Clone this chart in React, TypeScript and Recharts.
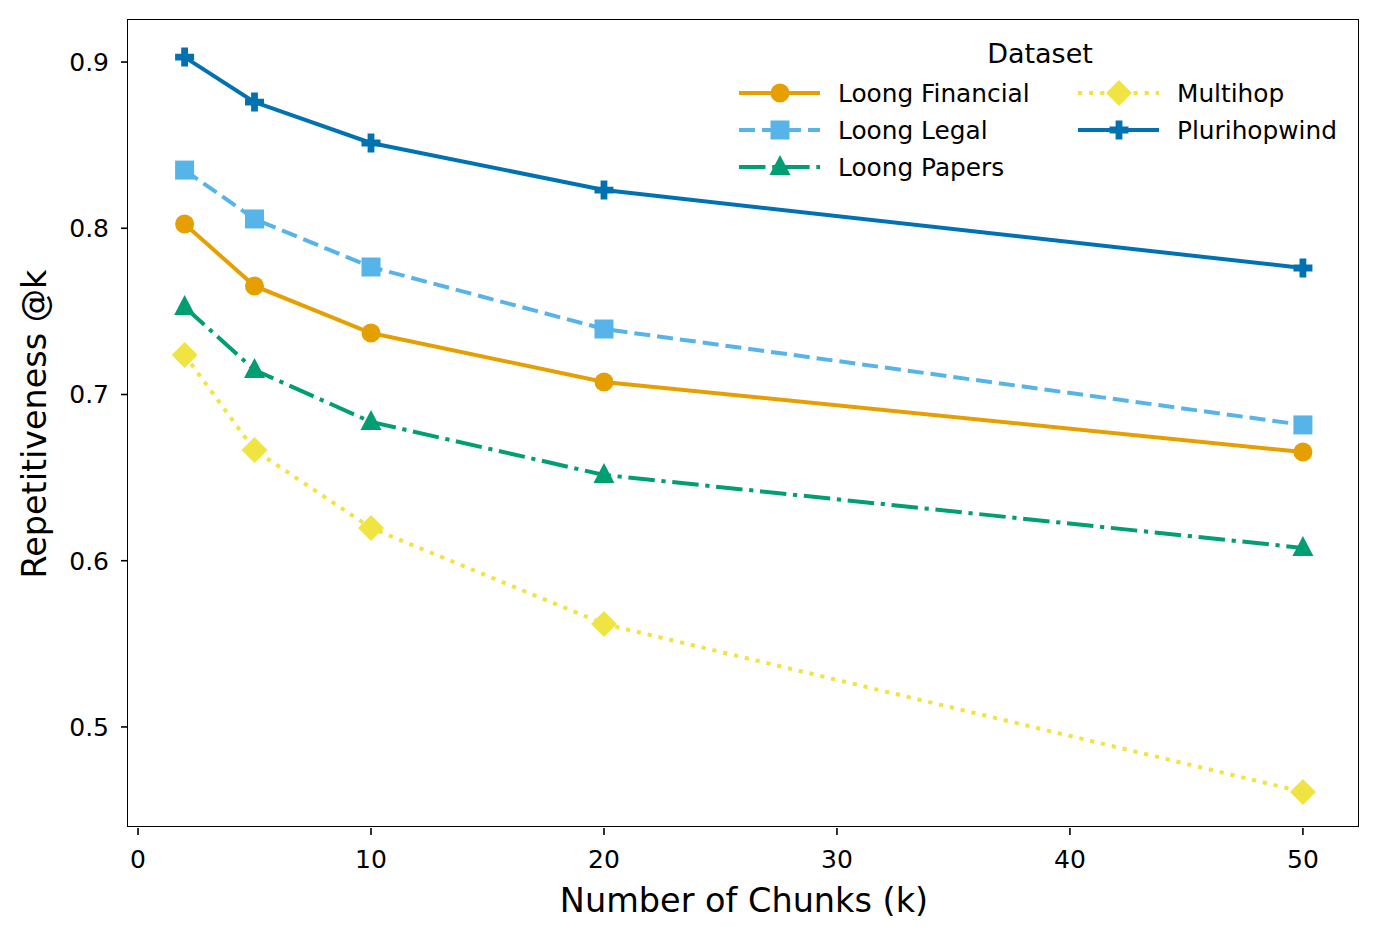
import React from "react";
import { LineChart, Line, XAxis, YAxis } from "recharts";

const chunks = [2, 5, 10, 20, 50];
const loongFinancial = [0.8026, 0.7653, 0.737, 0.7075, 0.6654];
const loongLegal = [0.835, 0.8056, 0.7767, 0.7394, 0.6817];
const loongPapers = [0.7526, 0.7147, 0.6835, 0.6516, 0.6077];
const multihop = [0.7238, 0.6666, 0.6197, 0.562, 0.4609];
const plurihopwind = [0.903, 0.8759, 0.8513, 0.823, 0.7761];

const xTicks = [0, 10, 20, 30, 40, 50];
const yTicks = [0.5, 0.6, 0.7, 0.8, 0.9];

const FONT = "'DejaVu Sans', sans-serif";
const LW = 4;

type Shape = "circle" | "square" | "triangle" | "diamond" | "plus";

const SERIES: { key: string; name: string; color: string; dash?: string; shape: Shape }[] = [
  { key: "financial", name: "Loong Financial", color: "#E69F00", shape: "circle" },
  { key: "legal", name: "Loong Legal", color: "#56B4E9", dash: "16 7", shape: "square" },
  { key: "papers", name: "Loong Papers", color: "#009E73", dash: "26.5 6.7 4.2 6.7", shape: "triangle" },
  { key: "multihop", name: "Multihop", color: "#F0E442", dash: "4.2 6.9", shape: "diamond" },
  { key: "pluri", name: "Plurihopwind", color: "#0072B2", shape: "plus" },
];

const data = chunks.map((k, i) => ({
  k,
  financial: loongFinancial[i],
  legal: loongLegal[i],
  papers: loongPapers[i],
  multihop: multihop[i],
  pluri: plurihopwind[i],
}));

function Marker({ shape, cx, cy, color }: { shape: Shape; cx: number; cy: number; color: string }) {
  if (cx == null || cy == null) return null;
  switch (shape) {
    case "circle":
      return <circle cx={cx} cy={cy} r={9.5} fill={color} />;
    case "square":
      return <rect x={cx - 9.5} y={cy - 9.5} width={19} height={19} fill={color} />;
    case "triangle":
      return (
        <polygon
          points={`${cx},${cy - 12} ${cx - 10.5},${cy + 8} ${cx + 10.5},${cy + 8}`}
          fill={color}
        />
      );
    case "diamond":
      return (
        <polygon
          points={`${cx},${cy - 13} ${cx + 13},${cy} ${cx},${cy + 13} ${cx - 13},${cy}`}
          fill={color}
        />
      );
    case "plus": {
      const a = 9.5;
      const t = 3.4;
      return (
        <path
          d={`M${cx - t},${cy - a}H${cx + t}V${cy - t}H${cx + a}V${cy + t}H${cx + t}V${cy + a}H${cx - t}V${cy + t}H${cx - a}V${cy - t}H${cx - t}Z`}
          fill={color}
        />
      );
    }
  }
  return null;
}

function LegendBox() {
  const rows = [
    { s: SERIES[0], x: 739, y: 93 },
    { s: SERIES[1], x: 739, y: 130 },
    { s: SERIES[2], x: 739, y: 167 },
    { s: SERIES[3], x: 1078, y: 93 },
    { s: SERIES[4], x: 1078, y: 130 },
  ];
  return (
    <svg width={1380} height={940} style={{ position: "absolute", left: 0, top: 0, pointerEvents: "none" }}>
      <text x={1040} y={63} textAnchor="middle" fontFamily={FONT} fontSize={27} fill="#000">
        Dataset
      </text>
      {rows.map(({ s, x, y }) => (
        <g key={s.key}>
          <line
            x1={x}
            x2={x + 81}
            y1={y}
            y2={y}
            stroke={s.color}
            strokeWidth={LW}
            strokeDasharray={s.dash}
          />
          <Marker shape={s.shape} cx={x + 41} cy={y} color={s.color} />
          <text x={x + 99} y={y + 9} fontFamily={FONT} fontSize={24.8} fill="#000">
            {s.name}
          </text>
        </g>
      ))}
    </svg>
  );
}

export default function App() {
  const tickStyle = { fontFamily: FONT, fontSize: 25, fill: "#000" };
  return (
    <div style={{ position: "absolute", left: 0, top: 0, width: 1380, height: 940, background: "#fff" }}>
      <LineChart width={1380} height={940} data={data} margin={{ top: 20, right: 20, left: 0, bottom: 0 }}>
        <XAxis
          dataKey="k"
          type="number"
          domain={[-0.43, 52.45]}
          ticks={xTicks}
          height={112}
          tickSize={7}
          tickMargin={15}
          tick={tickStyle}
          tickLine={{ stroke: "#000", strokeWidth: 1.6 }}
          axisLine={false}
          label={{
            content: () => (
              <text x={744} y={912} textAnchor="middle" fontFamily={FONT} fontSize={33.5} fill="#000">
                Number of Chunks (k)
              </text>
            ),
          }}
        />
        <YAxis
          type="number"
          domain={[0.4392, 0.9253]}
          ticks={yTicks}
          width={128}
          tickSize={7}
          tickMargin={12}
          tick={tickStyle}
          tickFormatter={(v: number) => v.toFixed(1)}
          tickLine={{ stroke: "#000", strokeWidth: 1.6 }}
          axisLine={false}
          label={{
            content: () => (
              <text
                x={46}
                y={424}
                transform="rotate(-90 46 424)"
                textAnchor="middle"
                fontFamily={FONT}
                fontSize={33.4}
                fill="#000"
              >
                Repetitiveness @k
              </text>
            ),
          }}
        />
        {SERIES.map((s) => (
          <Line
            key={s.key}
            dataKey={s.key}
            name={s.name}
            stroke={s.color}
            strokeWidth={LW}
            strokeDasharray={s.dash}
            type="linear"
            isAnimationActive={false}
            activeDot={false}
            dot={(p: any) => <Marker key={`${s.key}-${p.index}`} shape={s.shape} cx={p.cx} cy={p.cy} color={s.color} />}
          />
        ))}
      </LineChart>
      <div
        style={{
          position: "absolute",
          left: 128,
          top: 20,
          width: 1232,
          height: 808,
          border: "1.6px solid #000",
          boxSizing: "border-box",
          marginLeft: -0.8,
          marginTop: -0.8,
          pointerEvents: "none",
        }}
      />
      <LegendBox />
    </div>
  );
}
